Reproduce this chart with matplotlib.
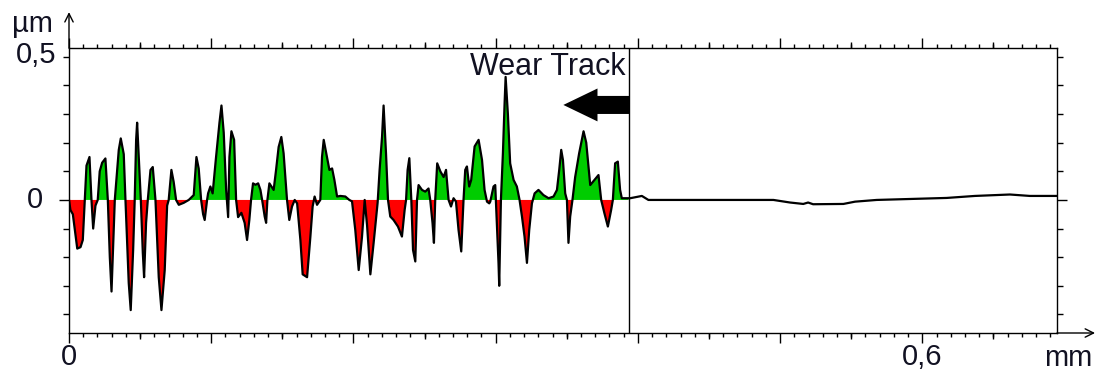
import numpy as np
import matplotlib.pyplot as plt
from matplotlib.ticker import MultipleLocator, FixedLocator, NullFormatter, FixedFormatter

plt.rcParams['font.family'] = ['Liberation Sans', 'DejaVu Sans']

# profile: position in mm, height in um
x_mm = [0.0000, 0.0010, 0.0027, 0.0058, 0.0081, 0.0097, 0.0111, 0.0123, 0.0144, 0.0158,
        0.0170, 0.0186, 0.0202, 0.0216, 0.0233, 0.0256, 0.0273, 0.0287, 0.0299, 0.0322,
        0.0350, 0.0364, 0.0385, 0.0397, 0.0420, 0.0434, 0.0451, 0.0462, 0.0472, 0.0479,
        0.0495, 0.0505, 0.0519, 0.0528, 0.0542, 0.0554, 0.0573, 0.0589, 0.0608, 0.0631,
        0.0650, 0.0673, 0.0690, 0.0701, 0.0720, 0.0736, 0.0753, 0.0772, 0.0807, 0.0842,
        0.0877, 0.0896, 0.0912, 0.0929, 0.0943, 0.0954, 0.0971, 0.0978, 0.0994, 0.1010,
        0.1034, 0.1058, 0.1072, 0.1088, 0.1105, 0.1119, 0.1128, 0.1142, 0.1161, 0.1175,
        0.1189, 0.1212, 0.1235, 0.1252, 0.1268, 0.1280, 0.1294, 0.1311, 0.1330, 0.1346,
        0.1358, 0.1376, 0.1386, 0.1395, 0.1409, 0.1423, 0.1439, 0.1456, 0.1474, 0.1493,
        0.1509, 0.1533, 0.1549, 0.1568, 0.1587, 0.1604, 0.1627, 0.1643, 0.1674, 0.1697,
        0.1713, 0.1727, 0.1744, 0.1767, 0.1779, 0.1791, 0.1814, 0.1831, 0.1850, 0.1866,
        0.1885, 0.1908, 0.1943, 0.1971, 0.1990, 0.2013, 0.2037, 0.2060, 0.2079, 0.2096,
        0.2119, 0.2142, 0.2170, 0.2184, 0.2201, 0.2212, 0.2229, 0.2243, 0.2259, 0.2282,
        0.2313, 0.2341, 0.2360, 0.2370, 0.2381, 0.2393, 0.2407, 0.2419, 0.2435, 0.2447,
        0.2458, 0.2482, 0.2505, 0.2528, 0.2540, 0.2556, 0.2566, 0.2575, 0.2589, 0.2611,
        0.2634, 0.2651, 0.2669, 0.2686, 0.2704, 0.2721, 0.2739, 0.2758, 0.2774, 0.2786,
        0.2798, 0.2814, 0.2828, 0.2852, 0.2880, 0.2904, 0.2922, 0.2939, 0.2955, 0.2962,
        0.2985, 0.2997, 0.3009, 0.3020, 0.3025, 0.3037, 0.3051, 0.3063, 0.3070, 0.3086,
        0.3102, 0.3126, 0.3149, 0.3168, 0.3185, 0.3203, 0.3220, 0.3236, 0.3255, 0.3274,
        0.3301, 0.3336, 0.3372, 0.3407, 0.3431, 0.3447, 0.3461, 0.3473, 0.3489, 0.3501,
        0.3512, 0.3524, 0.3540, 0.3559, 0.3587, 0.3618, 0.3637, 0.3665, 0.3695, 0.3723,
        0.3742, 0.3765, 0.3789, 0.3812, 0.3824, 0.3840, 0.3859, 0.3875, 0.3887, 0.3934,
        0.3946, 0.4028, 0.4074, 0.4953, 0.5070, 0.5163, 0.5197, 0.5232, 0.5445, 0.5527,
        0.5679, 0.6171, 0.6370, 0.6616, 0.6756, 0.6944]
z_um = [0.000, -0.035, -0.050, -0.170, -0.165, -0.140, 0.000, 0.120, 0.150, 0.000,
        -0.100, -0.020, 0.000, 0.100, 0.130, 0.145, 0.000, -0.200, -0.320, 0.000,
        0.175, 0.215, 0.160, 0.000, -0.290, -0.385, -0.175, 0.000, 0.210, 0.270,
        0.105, 0.000, -0.185, -0.270, -0.080, 0.000, 0.105, 0.115, 0.000, -0.270,
        -0.385, -0.245, -0.020, 0.000, 0.105, 0.063, 0.000, -0.017, -0.010, 0.000,
        0.017, 0.150, 0.110, 0.000, -0.050, -0.070, 0.000, 0.023, 0.047, 0.023,
        0.150, 0.270, 0.330, 0.235, 0.035, -0.060, 0.150, 0.240, 0.210, 0.000,
        -0.060, -0.045, -0.080, -0.140, -0.070, 0.000, 0.058, 0.053, 0.058, 0.035,
        0.000, -0.058, -0.080, 0.000, 0.058, 0.047, 0.035, 0.105, 0.185, 0.220,
        0.163, 0.000, -0.070, -0.023, 0.000, -0.012, -0.140, -0.260, -0.270, -0.130,
        -0.023, 0.012, -0.017, 0.000, 0.150, 0.210, 0.150, 0.105, 0.110, 0.070,
        0.012, 0.014, 0.012, 0.000, -0.005, -0.105, -0.245, -0.130, 0.000, -0.090,
        -0.260, -0.150, -0.010, 0.105, 0.220, 0.330, 0.163, 0.000, -0.058, -0.070,
        -0.093, -0.128, -0.035, 0.000, 0.105, 0.146, 0.000, -0.175, -0.215, 0.000,
        0.052, 0.035, 0.029, 0.040, 0.000, -0.080, -0.150, 0.000, 0.128, 0.100,
        0.080, 0.105, 0.000, -0.023, 0.006, -0.006, -0.105, -0.180, 0.000, 0.105,
        0.117, 0.047, 0.070, 0.187, 0.210, 0.140, 0.035, -0.006, -0.012, -0.006,
        0.047, 0.052, -0.090, -0.220, -0.300, 0.000, 0.163, 0.340, 0.430, 0.300,
        0.128, 0.070, 0.047, 0.000, -0.058, -0.128, -0.220, -0.105, -0.012, 0.023,
        0.035, 0.017, 0.006, 0.012, 0.035, 0.105, 0.175, 0.140, 0.023, 0.000,
        -0.150, -0.058, 0.000, 0.080, 0.163, 0.240, 0.200, 0.052, 0.070, 0.087,
        0.000, -0.047, -0.093, -0.035, 0.000, 0.128, 0.134, 0.035, 0.006, 0.006,
        0.006, 0.014, 0.000, 0.000, -0.009, -0.014, -0.009, -0.015, -0.014, -0.006,
        0.000, 0.007, 0.014, 0.019, 0.014, 0.014]

track_end = 0.394   # mm, edge of the wear track
x_max = 0.6947
y_min, y_max = -0.465, 0.531
x_major = [0, 0.1, 0.2, 0.3, 0.4, 0.5, 0.6]
x_labels = ['0', '', '', '', '', '', '0,6']

x = np.array(x_mm)
z = np.array(z_um)
in_track = x <= track_end
txt = dict(fontsize=21, color='#111122')

fig = plt.figure(figsize=(10.99, 3.72), dpi=100)
ax = fig.add_axes([69 / 1099, 1 - 333 / 372, 988 / 1099, 285 / 372])

ax.fill_between(x, z, 0, where=(z >= 0) & in_track, interpolate=True, color='#00cc00', lw=0)
ax.fill_between(x, z, 0, where=(z <= 0) & in_track, interpolate=True, color='#ff0000', lw=0)
ax.plot(x, z, color='black', lw=1.6)
ax.axvline(track_end, color='black', lw=1)

ax.arrow(track_end, 0.332, -0.0464, 0, width=0.063, head_width=0.115, head_length=0.024,
         length_includes_head=True, color='black', lw=0)
ax.text(track_end - 0.003, 0.465, 'Wear Track', ha='right', va='center', fontsize=22,
        color='#111122')

ax.set_xlim(0, x_max)
ax.set_ylim(y_min, y_max)

for s in ax.spines.values():
    s.set_linewidth(1)
    s.set_color('black')

# x ticks: long at 0.1, short at 0.01, both top and bottom
ax.xaxis.set_major_locator(FixedLocator(x_major))
ax.xaxis.set_major_formatter(FixedFormatter(x_labels))
ax.xaxis.set_minor_locator(MultipleLocator(0.01))
ax.xaxis.set_minor_formatter(NullFormatter())
ax.tick_params(axis='x', which='major', direction='out', length=7, width=1, top=True, pad=0,
               labelsize=21, labelcolor='#111122')
ax.tick_params(axis='x', which='minor', direction='out', length=2.9, width=1, top=True)

# medium ticks at 0.05 steps
for side in ['bottom', 'top']:
    sec = ax.secondary_xaxis(side)
    sec.xaxis.set_major_locator(FixedLocator(np.arange(0.05, x_max, 0.1)))
    sec.xaxis.set_major_formatter(NullFormatter())
    sec.tick_params(direction='out', length=4.3, width=1)
    sec.spines[side].set_visible(False)

# y ticks: long at 0, short every 0.1 on both sides
ax.yaxis.set_major_locator(FixedLocator([0]))
ax.yaxis.set_minor_locator(FixedLocator(np.arange(-0.4, 0.55, 0.1)))
ax.yaxis.set_major_formatter(NullFormatter())
ax.yaxis.set_minor_formatter(NullFormatter())
ax.tick_params(axis='y', which='major', direction='out', length=7.2, width=1, right=True)
ax.tick_params(axis='y', which='minor', direction='out', length=4, width=1, right=True)

ax.annotate('0,5', xy=(0, 0.5), xycoords=('axes fraction', 'data'), xytext=(-9, 1.5),
            textcoords='offset points', ha='right', va='center', **txt)
ax.annotate('0', xy=(0, 0), xycoords=('axes fraction', 'data'), xytext=(-18.5, 0),
            textcoords='offset points', ha='right', va='center', **txt)
ax.annotate('µm', xy=(0, 1), xycoords='axes fraction', xytext=(-26.5, 17),
            textcoords='offset points', ha='center', va='center', **txt)
ax.annotate('mm', xy=(1, 0), xycoords='axes fraction', xytext=(8, -18),
            textcoords='offset points', ha='center', va='center', **txt)

# axis arrows
ax.annotate('', xy=(0, 1.126), xytext=(0, 1), xycoords='axes fraction',
            arrowprops=dict(arrowstyle='->,head_length=0.6,head_width=0.3', lw=1, color='black',
                            shrinkA=0, shrinkB=0))
ax.annotate('', xy=(1.0385, 0), xytext=(1, 0), xycoords='axes fraction',
            arrowprops=dict(arrowstyle='->,head_length=0.6,head_width=0.3', lw=1, color='black',
                            shrinkA=0, shrinkB=0))

fig.savefig('out.png', dpi=100)
